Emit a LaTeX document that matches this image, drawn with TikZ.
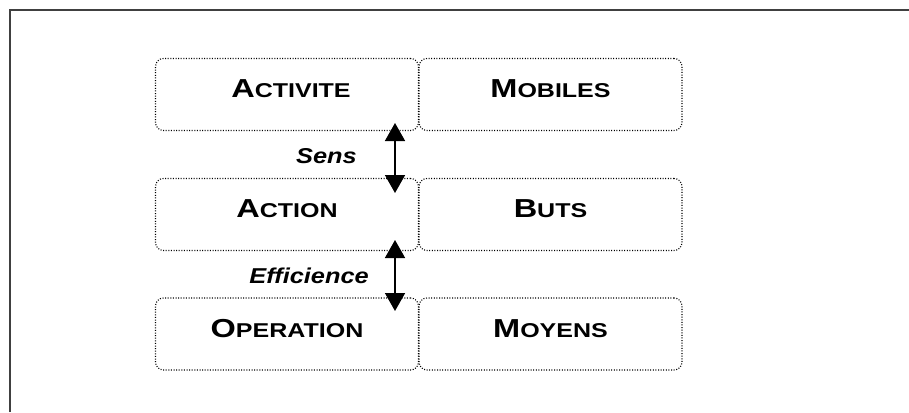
\documentclass[tikz,border=0pt]{standalone}
\usepackage{graphicx}
\usepackage{fontspec}
\setmainfont{Liberation Sans}
\usetikzlibrary{arrows.meta}
\newcommand{\fksc}[2]{\scalebox{1.25}[1]{\bfseries\fontsize{26}{26}\selectfont #1\fontsize{20}{20}\selectfont #2}}
\newcommand{\lbltext}[1]{\scalebox{1.18}[1]{\bfseries\itshape\fontsize{21.5}{21.5}\selectfont #1}}
\definecolor{framegray}{HTML}{404040}
\begin{document}
\begin{tikzpicture}[x=1pt,y=-1pt,
  box/.style={draw=black, line width=1.1pt, dash pattern=on 1pt off 1.6pt, rounded corners=8pt,
    minimum width=263pt, minimum height=72pt, inner sep=0pt, text height=22pt, text depth=16pt},
  frameline/.style={draw=framegray, line width=2.6pt},
  dblarrow/.style={{Triangle[length=18pt,width=20pt]}-{Triangle[length=18pt,width=20pt]}, line width=1.6pt},
  lbl/.style={inner sep=0pt, anchor=base east}]
\useasboundingbox (0,0) rectangle (909,412);
\draw[frameline] (10,412) -- (10,10) -- (909,10);
\node[box] (activite) at (287,94.5) {\hspace*{8pt}\fksc{A}{CTIVITE}};
\node[box] (mobiles) at (550.5,94.5) {\fksc{M}{OBILES}};
\node[box] (action) at (287,214.5) {\fksc{A}{CTION}};
\node[box] (buts) at (550.5,214.5) {\fksc{B}{UTS}};
\node[box] (operation) at (287,334) {\fksc{O}{PERATION}};
\node[box] (moyens) at (550.5,334) {\fksc{M}{OYENS}};
\coordinate (s1) at (395,123);
\coordinate (s2) at (395,193);
\coordinate (e1) at (395,240);
\coordinate (e2) at (395,311);
\draw[dblarrow] (s1) -- (s2);
\draw[dblarrow] (e1) -- (e2);
\node[lbl] (sens) at (357,163) {\lbltext{Sens}};
\node[lbl] (efficience) at (369,283) {\lbltext{Efficience}};
\end{tikzpicture}
\end{document}
